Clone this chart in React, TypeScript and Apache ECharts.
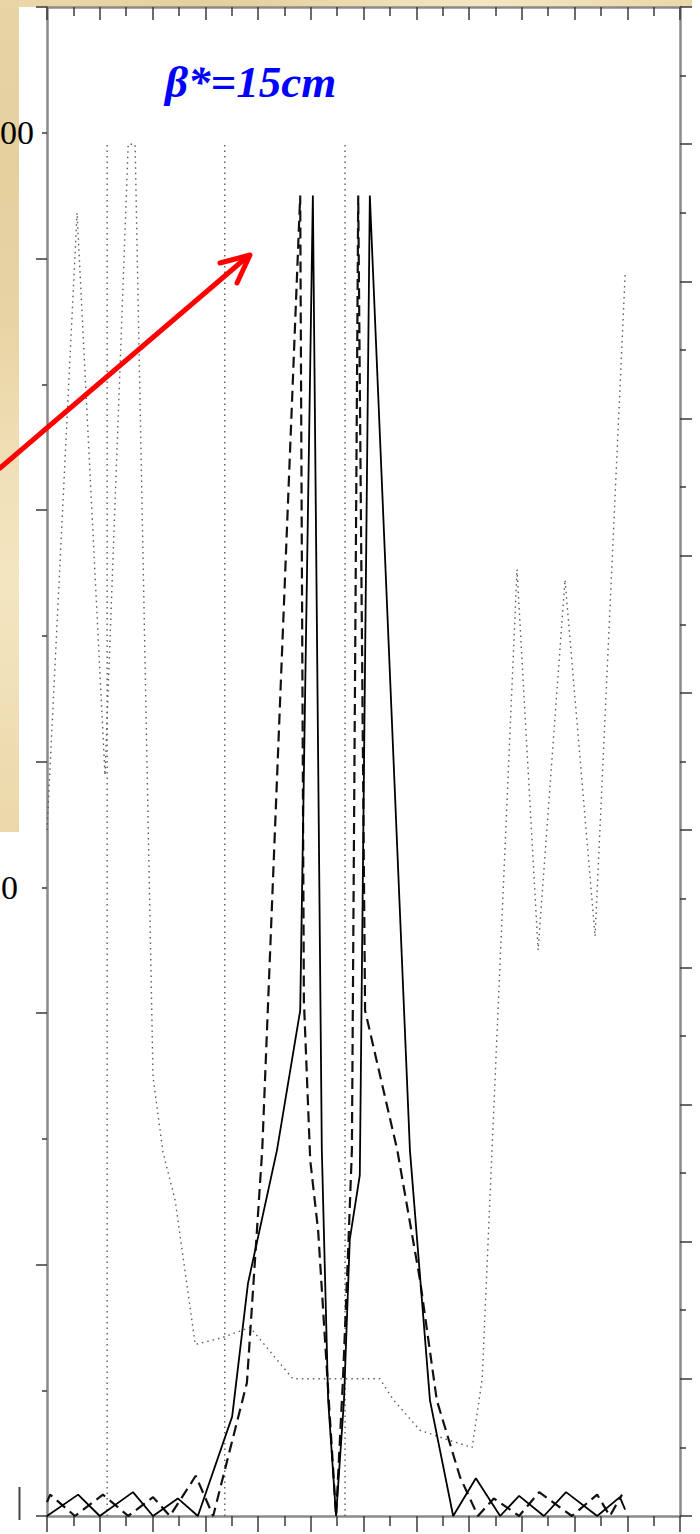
import React, { useEffect, useRef } from "react";
import * as echarts from "echarts";

// x in major-tick units (0..12), left y in left-axis tick units (0..12)
const solidCurve: [number, number][] = [
  [0, 0], [0.59, 0.17], [1.0, 0], [1.63, 0.19], [2.01, 0], [2.48, 0.14], [2.86, 0],
  [3.51, 0.79], [3.81, 1.85], [4.36, 2.91], [4.8, 4.02], [5.04, 10.5], [5.21, 2.91],
  [5.33, 0.92], [5.48, 0], [5.63, 0.92], [5.74, 2.2], [5.93, 2.71], [6.12, 10.5],
  [6.88, 2.91], [7.26, 0.92], [7.7, 0], [8.13, 0.3], [8.59, 0], [8.95, 0.16],
  [9.42, 0], [9.84, 0.19], [10.43, 0], [10.86, 0.15], [10.96, 0.05],
];

const dashedCurve: [number, number][] = [
  [0, 0.11], [0.06, 0.17], [0.53, 0], [1.06, 0.17], [1.54, 0], [2.01, 0.15], [2.33, 0],
  [2.82, 0.32], [3.15, 0], [3.79, 1.06], [4.08, 2.91], [4.8, 10.5], [4.87, 4.1],
  [4.99, 2.83], [5.14, 2.27], [5.48, 0], [5.61, 1.08], [5.71, 2.12], [5.78, 2.91],
  [5.9, 10.5], [6.03, 4.02], [6.64, 2.91], [7.07, 1.88], [7.39, 0.92], [7.83, 0.31],
  [8.17, 0], [8.47, 0.14], [8.95, 0], [9.33, 0.19], [9.95, 0], [10.43, 0.17],
  [10.67, 0], [10.9, 0.17],
];

// dotted curve on the right axis (0..22)
const dottedCurve: [number, number][] = [
  [0, 10.0], [0.57, 19.0], [1.1, 10.8], [1.54, 20], [1.67, 20], [2.01, 6.4], [2.2, 5.3],
  [2.43, 4.6], [2.81, 2.5], [3.32, 2.6], [3.85, 2.75], [4.66, 2.0], [6.31, 2.0],
  [6.56, 1.7], [7.07, 1.25], [7.64, 1.1], [8.06, 1.0], [8.25, 2.0], [8.91, 13.8],
  [9.31, 8.25], [9.82, 13.65], [10.39, 8.45], [10.96, 18.1],
];
const dottedSpikeX = [1.14, 3.37, 5.65];
const dottedSpikeTop = 20;

const leftLabelValues = [11, 5];
const leftLabelTexts = ["00", "0"];

const titleText = "β*=15cm";

const parchment =
  "radial-gradient(circle at 30% 20%, rgba(215,190,135,0.3) 0, rgba(215,190,135,0) 40%), radial-gradient(circle at 70% 70%, rgba(255,248,225,0.45) 0, rgba(255,248,225,0) 45%), #ebd7a8";

export default function App() {
  const ref = useRef<HTMLDivElement>(null);
  useEffect(() => {
    document.body.style.margin = "0";
    const chart = echarts.init(ref.current!, null, { renderer: "svg" });
    const axisLineStyle = { color: "#8a8a8a", width: 2.5 };
    const tickStyle = { color: "#3a3a3a", width: 1.5 };
    const dottedStyle = { color: "#5a5a5a", width: 1.4, type: [1.5, 4] };
    const spikeSeries = dottedSpikeX.map((x) => ({
      type: "line",
      xAxisIndex: 0,
      yAxisIndex: 2,
      data: [[x, 0], [x, dottedSpikeTop]],
      showSymbol: false,
      silent: true,
      lineStyle: dottedStyle,
      z: 2,
    }));
    chart.setOption({
      animation: false,
      backgroundColor: "transparent",
      title: {
        text: titleText,
        left: 160,
        top: 54,
        textStyle: {
          fontFamily: "Liberation Serif",
          fontStyle: "italic",
          fontWeight: "bold",
          fontSize: 45,
          color: "#0000ff",
        },
      },
      grid: { left: 47, right: 20, top: 7, bottom: 18, outerBoundsMode: "none", containLabel: false },
      xAxis: [
        {
          type: "value", min: 0, max: 12, interval: 1, position: "bottom",
          axisLine: { show: true, onZero: false, lineStyle: axisLineStyle },
          axisTick: { show: true, inside: false, length: 16, lineStyle: tickStyle },
          minorTick: { show: true, splitNumber: 2, length: 10, lineStyle: tickStyle },
          axisLabel: { show: false },
          splitLine: { show: false },
        },
        {
          type: "value", min: 0, max: 12, interval: 1, position: "top",
          axisLine: { show: true, onZero: false, lineStyle: axisLineStyle },
          axisTick: { show: true, inside: true, length: 13, lineStyle: tickStyle },
          minorTick: { show: true, splitNumber: 2, length: 9, lineStyle: tickStyle },
          axisLabel: { show: false },
          splitLine: { show: false },
        },
      ],
      yAxis: [
        {
          type: "value", min: 0, max: 12, interval: 2, position: "left",
          axisLine: { show: true, onZero: false, lineStyle: axisLineStyle },
          axisTick: { show: true, inside: false, length: 11, lineStyle: tickStyle },
          minorTick: { show: true, splitNumber: 2, length: 5, lineStyle: tickStyle },
          axisLabel: { show: false },
          splitLine: { show: false },
        },
        {
          type: "value", min: 0, max: 12, interval: 1, position: "left",
          axisLine: { show: false },
          axisTick: { show: false },
          splitLine: { show: false },
          axisLabel: {
            show: true,
            margin: 13,
            fontFamily: "Liberation Serif",
            fontSize: 34,
            color: "#000",
            formatter: (v: number) => {
              const i = leftLabelValues.indexOf(Math.round(v));
              if (i < 0) return "";
              return i === 0 ? leftLabelTexts[i] : "{b|" + leftLabelTexts[i] + "}";
            },
            rich: {
              b: { fontFamily: "Liberation Serif", fontSize: 34, color: "#000", padding: [0, 16, 0, 0] },
            },
          },
        },
        {
          type: "value", min: 0, max: 22, interval: 2, position: "right",
          axisLine: { show: true, onZero: false, lineStyle: axisLineStyle },
          axisTick: { show: true, inside: false, length: 12, lineStyle: tickStyle },
          minorTick: { show: true, splitNumber: 2, length: 6, lineStyle: tickStyle },
          axisLabel: { show: false },
          splitLine: { show: false },
        },
      ],
      series: [
        {
          type: "line", xAxisIndex: 0, yAxisIndex: 2, data: dottedCurve, showSymbol: false,
          lineStyle: dottedStyle, z: 2,
        },
        ...spikeSeries,
        {
          type: "line", xAxisIndex: 0, yAxisIndex: 0, data: dashedCurve, showSymbol: false,
          lineStyle: { color: "#111", width: 2.2, type: [11, 6] }, z: 3,
        },
        {
          type: "line", xAxisIndex: 0, yAxisIndex: 0, data: solidCurve, showSymbol: false,
          lineStyle: { color: "#000", width: 1.8 }, z: 4,
        },
      ],
      graphic: [
        {
          type: "line", z: 100,
          shape: { x1: 0, y1: 468, x2: 247, y2: 257 },
          style: { stroke: "#ff0000", lineWidth: 5, lineCap: "round" },
        },
        {
          type: "polyline", z: 100,
          shape: { points: [[220, 263], [250, 255], [237, 283]] },
          style: { stroke: "#ff0000", lineWidth: 5, lineCap: "round", lineJoin: "round", fill: "none" },
        },
        {
          type: "line", z: 100,
          shape: { x1: 19.5, y1: 1487, x2: 19.5, y2: 1520 },
          style: { stroke: "#444", lineWidth: 2 },
        },
      ],
    });
    return () => chart.dispose();
  }, []);
  return (
    <div style={{ position: "relative", width: 700, height: 1534, background: "#fff", overflow: "hidden" }}>
      <div style={{ position: "absolute", left: 0, top: 0, width: 692, height: 7, background: parchment }} />
      <div style={{ position: "absolute", left: 0, top: 0, width: 19, height: 832, background: parchment }} />
      <div ref={ref} style={{ position: "absolute", left: 0, top: 0, width: 700, height: 1534 }} />
    </div>
  );
}
